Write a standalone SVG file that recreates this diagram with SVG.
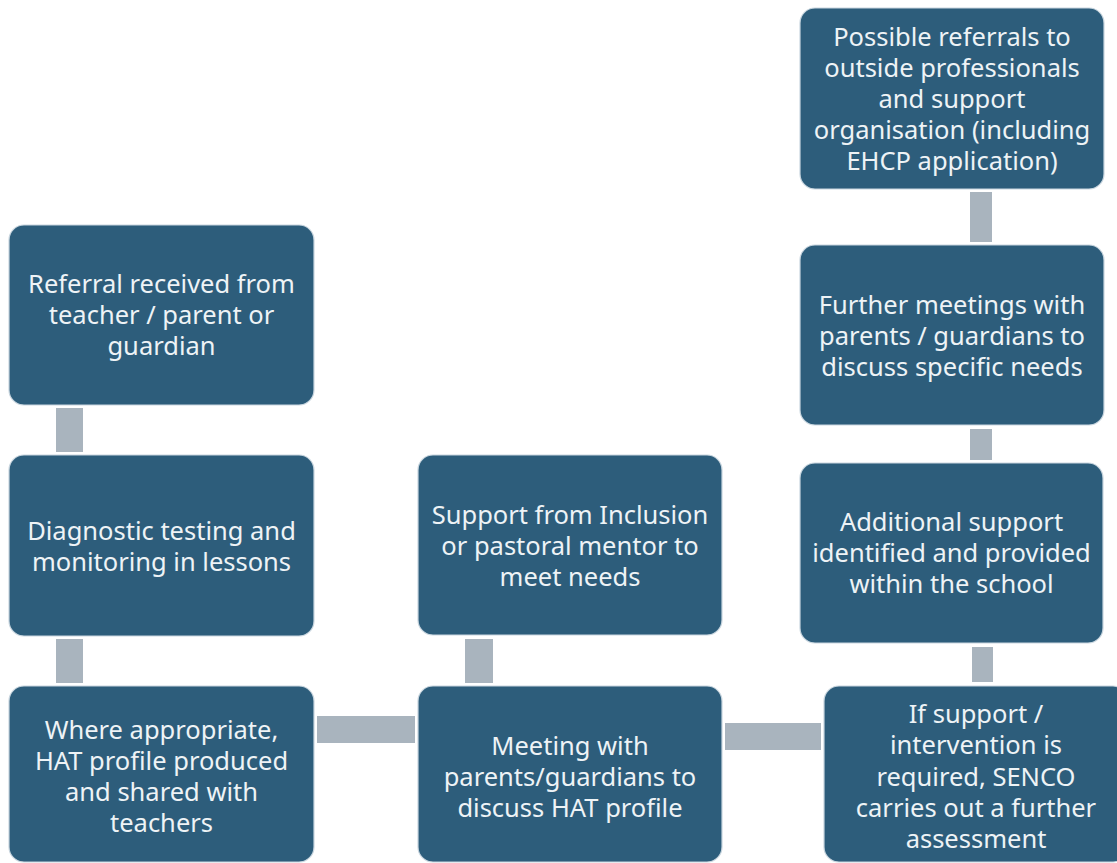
<svg xmlns="http://www.w3.org/2000/svg" width="1117" height="863" viewBox="0 0 1117 863">
<style>
.box{fill:#2d5d7b;stroke:#c9d6df;stroke-width:1.2}
.con{fill:#a9b4be}
.t{font-family:"Noto Sans","Open Sans",sans-serif;font-size:25.5px;fill:#eef3f6;text-anchor:middle;dominant-baseline:central}
</style>
<rect width="1117" height="863" fill="#ffffff"/>
<g id="connectors">
<rect class="con" x="56" y="408" width="27" height="44"/>
<rect class="con" x="56" y="639" width="27" height="44"/>
<rect class="con" x="317" y="716" width="98" height="27"/>
<rect class="con" x="465" y="639" width="28" height="44"/>
<rect class="con" x="725" y="723" width="96" height="27"/>
<rect class="con" x="972" y="647" width="21" height="35"/>
<rect class="con" x="970" y="429" width="22" height="31"/>
<rect class="con" x="970" y="192" width="22" height="50"/>
</g>
<g id="n1">
<rect class="box" x="9" y="225" width="305" height="180" rx="15"/>
<text class="t"><tspan x="161.5" y="283">Referral received from</tspan><tspan x="161.5" y="314">teacher / parent or</tspan><tspan x="161.5" y="345">guardian</tspan></text>
</g>
<g id="n2">
<rect class="box" x="9" y="455" width="305" height="181" rx="15"/>
<text class="t"><tspan x="161.5" y="530">Diagnostic testing and</tspan><tspan x="161.5" y="561">monitoring in lessons</tspan></text>
</g>
<g id="n3">
<rect class="box" x="9" y="686" width="305" height="176" rx="15"/>
<text class="t"><tspan x="161.5" y="729">Where appropriate,</tspan><tspan x="161.5" y="760">HAT profile produced</tspan><tspan x="161.5" y="791">and shared with</tspan><tspan x="161.5" y="822">teachers</tspan></text>
</g>
<g id="n4">
<rect class="box" x="418" y="686" width="304" height="176" rx="15"/>
<text class="t"><tspan x="570" y="745">Meeting with</tspan><tspan x="570" y="776">parents/guardians to</tspan><tspan x="570" y="807">discuss HAT profile</tspan></text>
</g>
<g id="n5">
<rect class="box" x="418" y="455" width="304" height="180" rx="15"/>
<text class="t"><tspan x="570" y="514">Support from Inclusion</tspan><tspan x="570" y="545">or pastoral mentor to</tspan><tspan x="570" y="576">meet needs</tspan></text>
</g>
<g id="n6">
<rect class="box" x="824" y="686" width="304" height="176" rx="15"/>
<text class="t"><tspan x="976" y="713">If support /</tspan><tspan x="976" y="744">intervention is</tspan><tspan x="976" y="776">required, SENCO</tspan><tspan x="976" y="807">carries out a further</tspan><tspan x="976" y="838">assessment</tspan></text>
</g>
<g id="n7">
<rect class="box" x="800" y="463" width="303" height="180" rx="15"/>
<text class="t"><tspan x="951.5" y="521">Additional support</tspan><tspan x="951.5" y="552">identified and provided</tspan><tspan x="951.5" y="583">within the school</tspan></text>
</g>
<g id="n8">
<rect class="box" x="800" y="245" width="304" height="180" rx="15"/>
<text class="t"><tspan x="952" y="304">Further meetings with</tspan><tspan x="952" y="335">parents / guardians to</tspan><tspan x="952" y="366">discuss specific needs</tspan></text>
</g>
<g id="n9">
<rect class="box" x="800" y="8" width="304" height="181" rx="15"/>
<text class="t"><tspan x="952" y="36">Possible referrals to</tspan><tspan x="952" y="67">outside professionals</tspan><tspan x="952" y="98">and support</tspan><tspan x="952" y="129">organisation (including</tspan><tspan x="952" y="160">EHCP application)</tspan></text>
</g>
</svg>
